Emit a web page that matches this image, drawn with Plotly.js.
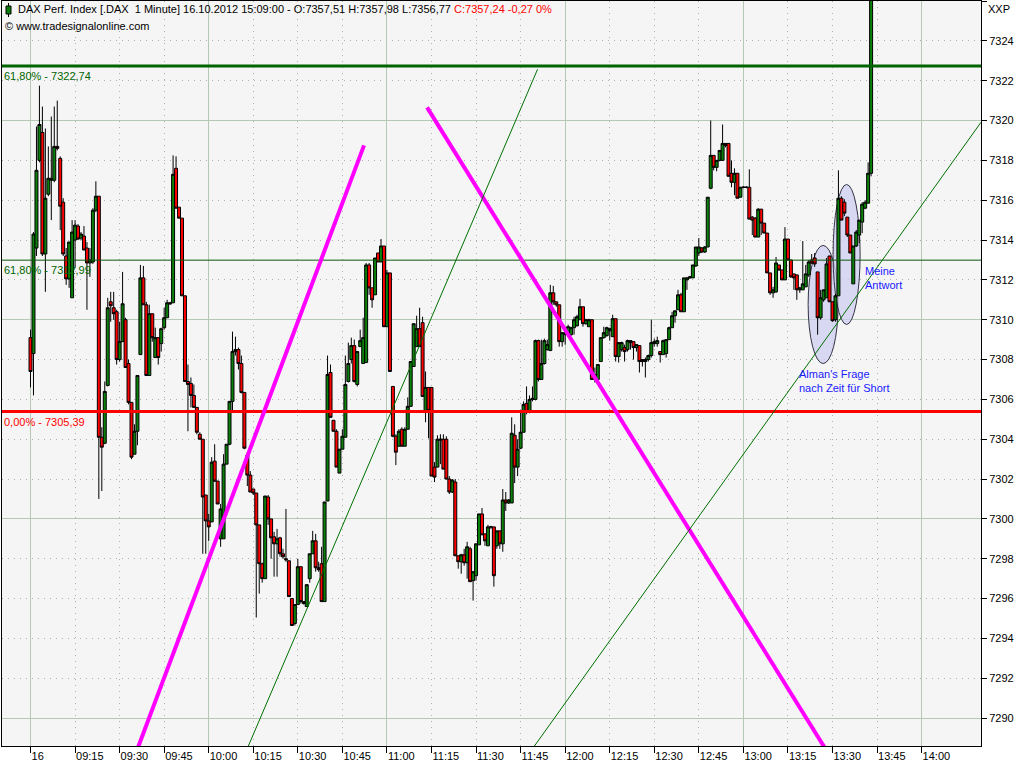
<!DOCTYPE html>
<html><head><meta charset="utf-8">
<script src="https://cdn.plot.ly/plotly-3.0.1.min.js"></script>
<style>html,body{margin:0;padding:0;background:#fff}#chart{width:1024px;height:768px}</style>
</head><body><div id="chart"></div>
<script>
// ---- data: DAX 1-minute candles, 16.10.2012 from 09:00 ----
const sessionDay = '2012-10-16';
const openP = [
7309.1,7308.3,7313.6,7318.0,7319.4,7313.3,7316.3,7317.0,7317.0,7318.7,
7318.1,7315.9,7313.2,7312.05,7311.1,7314.0,7314.7,7314.1,7314.2,7313.6,
7312.85,7312.9,7315.5,7316.2,7304.1,7303.8,7306.7,7310.9,7310.6,7310.4,
7308.0,7308.9,7310.0,7307.8,7305.85,7303.25,7304.4,7308.25,7312.1,7310.75,
7307.2,7310.3,7308.1,7309.1,7308.8,7309.6,7310.1,7310.85,7310.85,7317.6,
7315.65,7315.1,7311.2,7306.9,7306.8,7306.2,7305.6,7304.25,7304.0,7301.2,
7299.9,7299.85,7302.9,7301.9,7299.0,7299.0,7302.75,7303.75,7305.9,7308.4,
7308.5,7307.8,7306.35,7303.2,7302.2,7301.5,7301.3,7299.7,7297.75,7297.0,
7301.1,7300.0,7299.1,7298.75,7299.05,7298.25,7298.0,7297.9,7296.0,7294.75,
7295.7,7297.6,7295.85,7295.6,7297.0,7298.25,7298.9,7297.55,7297.75,7295.85,
7300.9,7307.35,7304.95,7304.4,7302.3,7303.5,7304.1,7306.9,7308.0,7308.7,
7306.75,7308.65,7307.8,7307.85,7312.75,7311.6,7311.25,7313.35,7312.9,7313.7,
7309.65,7312.35,7306.65,7304.15,7303.65,7304.5,7303.65,7304.5,7305.65,7307.65,
7308.65,7309.55,7309.85,7305.4,7306.6,7306.6,7302.6,7302.6,7303.95,7304.0,
7304.0,7302.0,7301.35,7301.85,7298.15,7297.85,7298.2,7297.8,7298.5,7296.9,
7297.15,7298.7,7300.25,7299.25,7298.65,7299.6,7299.6,7298.65,7299.4,7298.75,
7300.95,7300.8,7300.8,7304.2,7302.6,7303.55,7304.35,7305.8,7305.35,7306.0,
7306.0,7308.95,7307.0,7307.8,7308.5,7308.45,7311.35,7310.9,7310.75,7308.9,
7309.25,7309.25,7309.25,7309.6,7309.7,7310.0,7310.65,7309.8,7309.65,7310.0,
7307.25,7307.0,7307.9,7309.1,7309.2,7309.45,7309.15,7310.05,7308.15,7308.5,
7308.6,7308.5,7308.85,7308.9,7308.6,7308.7,7308.0,7307.9,7308.0,7308.2,
7308.8,7308.8,7308.4,7308.25,7308.3,7309.0,7309.6,7310.2,7310.5,7311.25,
7310.4,7312.0,7312.1,7312.1,7312.7,7313.35,7313.6,7313.4,7313.65,7316.6,
7318.25,7317.65,7318.0,7318.0,7318.85,7318.85,7317.35,7316.9,7317.35,7316.15,
7316.65,7316.65,7316.65,7315.15,7315.1,7314.15,7315.55,7314.85,7314.35,7312.35,
7311.35,7311.4,7312.75,7312.5,7312.0,7314.05,7313.0,7312.3,7312.25,7311.5,
7311.5,7311.65,7312.25,7313.0,7313.1,7312.4,7310.1,7311.0,7311.1,7313.2,
7310.9,7310.0,7311.2,7316.1,7315.9,7315.15,7314.25,7311.8,7313.7,7314.25,
7314.9,7315.6,7315.85,7317.35];
const highP = [
7309.5,7314.4,7319.7,7321.75,7320.7,7319.6,7318.7,7320.2,7320.7,7321.0,
7318.2,7316.1,7313.6,7313.9,7315.0,7315.0,7314.8,7314.4,7314.7,7313.9,
7313.6,7315.6,7316.95,7316.2,7304.6,7306.9,7311.1,7311.4,7311.4,7310.5,
7309.9,7312.4,7310.1,7308.0,7305.85,7304.75,7307.2,7312.75,7312.7,7310.9,
7310.75,7310.3,7309.6,7309.1,7309.6,7310.6,7311.0,7310.9,7318.25,7318.2,
7315.65,7315.1,7311.2,7307.75,7307.1,7306.75,7305.6,7304.35,7304.0,7301.2,
7300.25,7303.1,7303.75,7301.9,7300.75,7303.25,7303.75,7305.9,7309.4,7309.15,
7308.6,7308.2,7306.35,7303.35,7302.4,7301.5,7301.3,7299.7,7297.8,7301.15,
7301.2,7300.0,7299.35,7299.5,7299.1,7298.5,7300.5,7297.9,7296.0,7295.7,
7298.0,7297.6,7295.85,7296.7,7298.25,7299.4,7299.25,7297.85,7298.6,7300.85,
7308.2,7307.75,7304.95,7304.5,7303.5,7304.5,7308.2,7308.85,7309.1,7309.0,
7308.4,7309.5,7310.1,7312.85,7312.85,7311.6,7313.1,7313.35,7314.05,7313.7,
7312.5,7312.35,7306.65,7304.25,7304.5,7304.6,7304.6,7306.1,7307.9,7309.8,
7310.2,7310.6,7310.15,7307.4,7306.6,7306.6,7302.85,7304.2,7304.25,7304.25,
7304.15,7302.15,7302.0,7302.0,7298.15,7298.25,7298.5,7298.85,7298.6,7297.35,
7298.75,7300.25,7300.55,7299.25,7299.7,7299.65,7299.6,7299.4,7299.4,7301.5,
7301.35,7301.0,7305.1,7304.75,7304.0,7305.35,7305.9,7306.65,7306.2,7306.65,
7309.0,7309.0,7309.0,7309.05,7309.0,7311.75,7311.7,7310.9,7310.75,7309.35,
7309.4,7309.75,7309.65,7310.15,7310.25,7311.05,7310.65,7310.05,7310.05,7310.0,
7307.6,7307.75,7309.1,7309.65,7309.65,7309.6,7310.25,7310.05,7308.85,7308.9,
7308.75,7309.0,7308.95,7308.9,7308.75,7308.7,7308.0,7308.1,7308.25,7310.0,
7309.05,7309.15,7308.4,7309.0,7309.0,7309.65,7310.4,7310.45,7311.5,7311.35,
7312.1,7312.15,7312.2,7312.75,7313.65,7314.1,7313.65,7313.7,7316.15,7320.0,
7318.25,7318.0,7318.5,7319.8,7318.85,7318.85,7318.0,7317.6,7317.35,7316.65,
7316.7,7316.7,7317.55,7315.2,7315.15,7315.6,7315.55,7314.85,7314.35,7312.35,
7311.65,7313.15,7312.75,7312.5,7314.65,7314.05,7313.0,7312.3,7312.25,7311.65,
7313.95,7312.75,7313.0,7313.3,7313.35,7312.4,7311.5,7311.5,7313.1,7313.2,
7310.9,7311.3,7317.5,7316.2,7316.05,7315.15,7314.25,7313.7,7314.5,7315.0,
7315.9,7316.0,7317.9,7332.0];
const lowP = [
7306.6,7306.2,7313.2,7317.9,7313.2,7311.4,7316.2,7315.0,7316.9,7318.5,
7314.5,7313.2,7311.75,7311.6,7311.1,7312.6,7314.0,7314.0,7313.5,7310.5,
7312.15,7312.8,7315.4,7301.0,7301.4,7303.75,7306.65,7309.9,7310.0,7307.75,
7307.9,7308.9,7307.6,7305.75,7303.0,7303.25,7303.7,7308.25,7310.75,7307.2,
7307.2,7308.9,7308.1,7307.75,7308.4,7309.5,7310.1,7310.75,7310.85,7315.6,
7315.1,7311.2,7306.9,7304.4,7305.6,7305.6,7304.25,7304.0,7298.25,7298.25,
7298.9,7299.85,7301.85,7300.75,7298.6,7299.0,7302.75,7303.7,7305.4,7308.2,
7307.5,7306.3,7303.5,7301.65,7301.35,7301.2,7295.05,7296.25,7296.8,7297.0,
7299.7,7298.0,7297.1,7297.1,7298.1,7298.0,7297.85,7296.1,7294.65,7294.65,
7295.7,7295.75,7295.7,7295.6,7296.8,7298.25,7297.35,7297.35,7295.85,7295.85,
7300.9,7305.1,7304.4,7302.6,7302.3,7303.5,7304.1,7306.85,7307.8,7306.85,
7306.65,7308.65,7307.8,7307.85,7311.25,7310.6,7311.25,7312.9,7312.9,7309.65,
7309.65,7307.4,7304.1,7302.7,7303.65,7303.65,7303.65,7304.5,7305.65,7307.65,
7308.65,7308.65,7306.15,7304.85,7304.05,7302.15,7301.85,7302.6,7302.75,7302.5,
7302.0,7301.25,7301.3,7298.15,7297.5,7297.25,7297.65,7297.0,7296.85,7295.9,
7296.9,7298.7,7299.2,7298.65,7298.65,7299.5,7296.6,7298.5,7298.5,7298.35,
7300.4,7300.75,7300.8,7301.8,7302.15,7303.5,7304.35,7305.25,7305.3,7305.9,
7305.95,7306.9,7307.0,7307.75,7308.45,7308.45,7310.75,7310.65,7308.65,7308.65,
7308.75,7309.15,7309.2,7309.25,7309.65,7310.0,7309.65,7309.75,7309.65,7307.0,
7306.85,7306.9,7307.9,7309.05,7309.15,7308.95,7309.15,7307.9,7307.85,7308.4,
7307.9,7308.4,7308.5,7308.0,7308.4,7307.35,7307.65,7307.1,7307.9,7308.1,
7308.65,7308.65,7307.85,7308.25,7308.1,7309.0,7309.6,7309.85,7310.5,7310.4,
7310.4,7311.5,7312.05,7312.1,7312.65,7313.2,7313.35,7313.35,7313.65,7316.55,
7317.5,7317.45,7317.95,7318.0,7318.65,7317.2,7316.65,7316.25,7316.1,7316.15,
7316.6,7316.6,7315.05,7314.25,7314.15,7314.15,7314.25,7314.35,7312.35,7311.25,
7311.1,7311.35,7312.45,7312.0,7312.0,7313.0,7312.1,7311.5,7311.0,7311.35,
7311.5,7311.65,7312.15,7312.8,7312.65,7309.25,7310.0,7310.9,7311.1,7310.9,
7309.9,7309.9,7311.2,7315.0,7315.2,7314.15,7313.35,7311.8,7313.65,7313.85,
7314.35,7315.55,7315.85,7317.2];
const closeP = [
7307.4,7314.3,7317.5,7319.8,7313.3,7316.1,7317.1,7317.1,7318.7,7318.6,
7315.7,7313.3,7312.05,7313.9,7314.4,7314.75,7314.05,7314.3,7313.5,7312.85,
7313.0,7315.5,7316.2,7304.1,7303.6,7306.4,7310.6,7310.7,7310.3,7308.0,
7308.9,7310.8,7307.6,7305.85,7303.1,7304.4,7307.2,7312.1,7310.75,7307.2,
7310.3,7309.1,7309.1,7308.1,7309.55,7310.1,7310.85,7310.8,7317.3,7315.6,
7315.1,7311.2,7306.9,7306.75,7306.2,7305.6,7304.35,7304.0,7301.1,7299.9,
7299.6,7302.85,7301.9,7300.75,7300.5,7302.75,7303.75,7305.9,7308.4,7308.5,
7307.8,7306.35,7303.55,7302.2,7301.35,7301.3,7299.7,7297.75,7297.0,7301.15,
7300.0,7299.05,7298.75,7299.0,7298.25,7298.1,7297.95,7296.1,7294.65,7295.7,
7297.6,7295.85,7295.75,7296.7,7298.25,7298.9,7297.55,7297.45,7295.85,7300.85,
7307.25,7305.1,7304.4,7302.6,7303.5,7304.15,7306.75,7307.8,7308.7,7306.9,
7308.4,7308.95,7309.1,7312.75,7311.6,7311.0,7313.1,7312.9,7313.7,7309.65,
7312.35,7307.4,7304.15,7303.35,7304.4,7303.65,7304.5,7305.65,7307.9,7309.8,
7309.55,7308.65,7306.15,7306.6,7305.45,7302.15,7302.1,7304.0,7304.0,7302.5,
7302.0,7301.35,7301.95,7298.15,7297.85,7298.2,7297.8,7298.6,7296.85,7297.35,
7298.75,7300.25,7299.2,7298.9,7299.6,7299.6,7297.15,7299.4,7298.75,7300.95,
7300.8,7300.95,7304.3,7302.6,7303.5,7304.35,7305.75,7305.35,7306.0,7306.05,
7308.95,7307.0,7307.8,7308.95,7308.75,7311.35,7310.9,7310.75,7308.9,7309.35,
7309.35,7309.65,7309.6,7310.0,7310.15,7310.65,7309.8,7310.0,7310.0,7307.0,
7307.0,7307.75,7309.1,7309.35,7309.6,7309.55,7310.05,7308.15,7308.85,7308.85,
7308.4,7308.95,7308.95,7308.6,7308.75,7307.9,7307.9,7308.0,7308.2,7308.85,
7308.9,7308.95,7308.25,7308.95,7309.0,7309.6,7310.2,7310.45,7311.25,7310.4,
7312.1,7312.1,7312.15,7312.75,7313.65,7313.65,7313.4,7313.65,7316.15,7318.25,
7317.65,7318.0,7318.5,7318.85,7318.75,7317.2,7316.9,7317.35,7316.1,7316.65,
7316.65,7316.65,7315.05,7315.0,7314.15,7315.55,7314.85,7314.35,7312.35,7311.35,
7311.5,7312.85,7312.5,7312.0,7314.05,7313.0,7312.15,7312.1,7311.5,7311.6,
7311.8,7312.3,7312.9,7312.85,7312.8,7310.1,7311.1,7311.5,7312.8,7310.9,
7309.95,7311.2,7316.1,7315.0,7315.35,7314.25,7313.35,7313.7,7314.4,7315.0,
7315.8,7315.9,7317.35,7331.0];

// axis ticks
const tickTimes = ['09:00','09:15','09:30','09:45','10:00','10:15','10:30','10:45','11:00','11:15','11:30','11:45','12:00','12:15','12:30','12:45','13:00','13:15','13:30','13:45','14:00'];
const tickLabels = ['16','09:15','09:30','09:45','10:00','10:15','10:30','10:45','11:00','11:15','11:30','11:45','12:00','12:15','12:30','12:45','13:00','13:15','13:30','13:45','14:00'];
const hourTimes = ['09:00','10:00','11:00','12:00','13:00','14:00'];
const xRange = ['08:50:24','14:20:00'];
const yRange = [7288.6, 7326.0];

// retracement levels
const levelValues = [7322.74, 7312.99, 7305.39];
const levelLabels = ['61,80% - 7322,74', '61,80% - 7312,99', '0,00% - 7305,39'];

// trend lines (time, price)
const magentaStartT = ['09:35:52','11:13:30'];
const magentaStartP = [7288.4, 7320.66];
const magentaEndT   = ['10:52:17','13:27:51'];
const magentaEndP   = [7318.75, 7288.4];
const greenStartT = ['10:12:46','11:48:42'];
const greenStartP = [7288.4, 7288.4];
const greenEndT   = ['11:50:42','14:20:00'];
const greenEndP   = [7322.57, 7319.91];

// ellipses (time span, price span)
const ellX0 = ['13:21:48','13:30:12'];
const ellX1 = ['13:31:54','13:39:18'];
const ellY0 = [7307.8, 7309.76];
const ellY1 = [7313.73, 7316.79];

// ---- build ----
const T = s => sessionDay + ' ' + s;
const times = openP.map((_, i) => {
  const m = 9 * 60 + i;
  return T(String(Math.floor(m / 60)).padStart(2, '0') + ':' + String(m % 60).padStart(2, '0'));
});

const L = 2, R = 43, TOP = 1, B = 22, W = 1024, H = 768;
const pw = W - L - R, ph = H - TOP - B;
const px = x => (x - L) / pw;
const py = y => (H - B - y) / ph;

const FONT = 'Liberation Sans, Arial, sans-serif';

const shapes = [];
const levelColors = ['#006400', '#0b5a0b', '#ff0000'];
const levelWidths = [3, 1, 3];
levelValues.forEach((v, i) => shapes.push({type:'line', xref:'paper', yref:'y', x0:0, x1:1, y0:v, y1:v,
  line:{color:levelColors[i], width:levelWidths[i]}}));
ellX0.forEach((x0, i) => shapes.push({type:'circle', xref:'x', yref:'y', x0:T(x0), x1:T(ellX1[i]), y0:ellY0[i], y1:ellY1[i],
  fillcolor:'rgba(205,205,240,0.75)', line:{color:'#333344', width:1}, layer:'between'}));
magentaStartT.forEach((t, i) => shapes.push({type:'line', xref:'x', yref:'y', x0:T(t), y0:magentaStartP[i], x1:T(magentaEndT[i]), y1:magentaEndP[i],
  line:{color:'#ff00ff', width:4}}));
greenStartT.forEach((t, i) => shapes.push({type:'line', xref:'x', yref:'y', x0:T(t), y0:greenStartP[i], x1:T(greenEndT[i]), y1:greenEndP[i],
  line:{color:'#007000', width:1}}));
shapes.push({type:'line', xref:'paper', yref:'paper', x0:px(8.5), x1:px(8.5), y0:py(3), y1:py(17), line:{color:'#000', width:1}});
shapes.push({type:'rect', xref:'paper', yref:'paper', x0:px(6), x1:px(11), y0:py(6), y1:py(14), fillcolor:'#0b7d0b', line:{color:'#000', width:1}});

const annotations = [
  {xref:'paper', yref:'paper', x:px(16), y:py(9), xanchor:'left', yanchor:'middle', showarrow:false,
   text:'DAX Perf. Index [.DAX\u00a0\u00a01 Minute] 16.10.2012 15:09:00 - O:7357,51 H:7357,98 L:7356,77 <span style="color:#ff0000">C:7357,24 -0,27 0%</span>',
   font:{family:FONT, size:11, color:'#000'}},
  {xref:'paper', yref:'paper', x:px(3), y:py(26), xanchor:'left', yanchor:'middle', showarrow:false,
   text:'© www.tradesignalonline.com', font:{family:FONT, size:11, color:'#000'}},
  {xref:'paper', yref:'paper', x:px(986), y:py(9), xanchor:'left', yanchor:'middle', showarrow:false,
   text:'XXP', font:{family:FONT, size:11, color:'#000'}},
  {xref:'x', yref:'y', x:T('13:40:20'), y:7312.1, xanchor:'left', yanchor:'middle', align:'left', showarrow:false,
   text:'Meine<br>Antwort', font:{family:FONT, size:11, color:'#1a1aff'}},
  {xref:'x', yref:'y', x:T('13:18:00'), y:7306.9, xanchor:'left', yanchor:'middle', align:'left', showarrow:false,
   text:'Alman\'s Frage<br>nach Zeit für Short', font:{family:FONT, size:11, color:'#1a1aff'}}
];
const labelColors = ['#006400', '#006400', '#ff0000'];
levelValues.forEach((v, i) => annotations.push({xref:'paper', yref:'y', x:0, y:v, xanchor:'left', yanchor:'top', yshift:-2,
  showarrow:false, text:levelLabels[i], font:{family:FONT, size:11, color:labelColors[i]}}));

const traces = [
  {type:'candlestick', x:times, open:openP, high:highP, low:lowP, close:closeP, xaxis:'x', yaxis:'y',
   increasing:{line:{color:'#000000', width:1}, fillcolor:'#0a800a'},
   decreasing:{line:{color:'#000000', width:1}, fillcolor:'#ff0000'},
   whiskerwidth:0, hoverinfo:'skip', showlegend:false},
  {type:'scatter', x:[], y:[], xaxis:'x2', yaxis:'y', hoverinfo:'skip', showlegend:false},
  {type:'scatter', x:[], y:[], xaxis:'x', yaxis:'y2', hoverinfo:'skip', showlegend:false}
];

const layout = {
  width:W, height:H,
  margin:{l:L, r:R, t:TOP, b:B, pad:0},
  paper_bgcolor:'#ffffff', plot_bgcolor:'#f5f5f5',
  showlegend:false, boxgap:0, boxgroupgap:0,
  font:{family:FONT, size:11, color:'#000'},
  xaxis:{type:'date', range:xRange.map(T), rangeslider:{visible:false},
    tickmode:'array', tickvals:tickTimes.map(T), ticktext:tickLabels,
    ticks:'outside', ticklen:6, tickcolor:'#000', tickwidth:1, ticklabelposition:'outside right',
    tickfont:{family:FONT, size:11, color:'#000'},
    showgrid:true, gridcolor:'#b0b0b0', griddash:'1px,5px', gridwidth:1,
    showline:true, linecolor:'#000', linewidth:1, mirror:true, zeroline:false, fixedrange:true},
  xaxis2:{type:'date', overlaying:'x', anchor:'y', range:xRange.map(T),
    tickmode:'array', tickvals:hourTimes.map(T), showticklabels:false, ticks:'',
    showgrid:true, gridcolor:'#b3c9b3', gridwidth:1, showline:false, zeroline:false, fixedrange:true},
  yaxis:{side:'right', range:yRange, tick0:7290, dtick:2, tickformat:'d',
    ticks:'outside', ticklen:5, tickcolor:'#000', tickwidth:1,
    tickfont:{family:FONT, size:11, color:'#000'},
    showgrid:true, gridcolor:'#b0b0b0', griddash:'1px,5px', gridwidth:1,
    showline:true, linecolor:'#000', linewidth:1, mirror:true, zeroline:false, fixedrange:true},
  yaxis2:{overlaying:'y', anchor:'x', side:'right', range:yRange, tick0:7290, dtick:10,
    showticklabels:false, ticks:'', showgrid:true, gridcolor:'#b3c9b3', gridwidth:1,
    showline:false, zeroline:false, fixedrange:true},
  shapes:shapes, annotations:annotations
};

Plotly.newPlot('chart', traces, layout, {displayModeBar:false, staticPlot:true});
</script>
</body></html>
